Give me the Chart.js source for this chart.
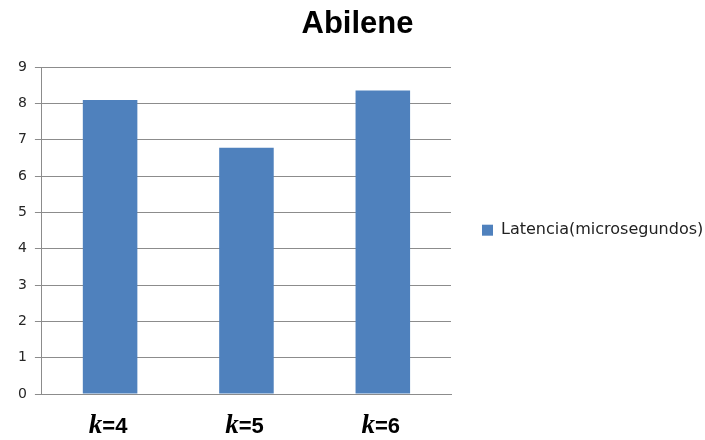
<!DOCTYPE html>
<html>
<head>
<meta charset="utf-8">
<script src="https://cdn.jsdelivr.net/npm/chart.js"></script>
<style>
  html, body { margin: 0; padding: 0; background: #fff; }
  #wrap { width: 705px; height: 440px; }
</style>
</head>
<body>
<div id="wrap"><canvas id="c"></canvas></div>
<script>
// k values and measured latency
const kValues = ['4', '5', '6'];
const latencia = [8.1, 6.78, 8.36];
const yTicks = [0, 1, 2, 3, 4, 5, 6, 7, 8, 9];
const seriesLabel = 'Latencia(microsegundos)';
const chartTitle = 'Abilene';

const categories = kValues.map(v => 'k=' + v);

// draws the x labels with an italic serif "k" followed by "=n"
const kLabels = {
  id: 'kLabels',
  afterDraw(chart) {
    const scale = chart.scales.x;
    const c = chart.ctx;
    const y = scale.bottom - 7;
    const kFont = 'italic bold 27px "Liberation Serif"';
    const restFont = 'bold 22px "Liberation Sans"';
    c.save();
    c.fillStyle = '#000';
    c.textBaseline = 'alphabetic';
    kValues.forEach((v, i) => {
      const x = scale.getPixelForTick(i) - 2;
      c.font = kFont;
      const wk = c.measureText('k').width;
      c.font = restFont;
      const wr = c.measureText('=' + v).width;
      const start = x - (wk + wr) / 2;
      c.font = kFont;
      c.textAlign = 'left';
      c.fillText('k', start, y);
      c.font = restFont;
      c.fillText('=' + v, start + wk, y);
    });
    c.restore();
  }
};

new Chart(document.getElementById('c'), {
  type: 'bar',
  data: {
    labels: categories,
    datasets: [{
      label: seriesLabel,
      data: latencia,
      backgroundColor: '#4f81bd',
      borderWidth: 0,
      categoryPercentage: 1,
      barPercentage: 0.4
    }]
  },
  options: {
    responsive: true,
    maintainAspectRatio: false,
    animation: false,
    layout: { padding: { left: 10, right: 0, top: 0, bottom: 0 } },
    plugins: {
      title: {
        display: true,
        text: chartTitle,
        color: '#000',
        font: { family: '"Liberation Sans"', size: 31, weight: 'bold' },
        padding: { top: 6, bottom: 24 }
      },
      legend: {
        position: 'right',
        maxWidth: 254,
        // empty title pushes the single entry a little lower
        title: { display: true, text: ' ', padding: 0, font: { size: 17 } },
        labels: {
          boxWidth: 11,
          boxHeight: 11,
          padding: 31,
          color: '#222',
          font: { family: '"DejaVu Sans"', size: 16 }
        }
      },
      tooltip: { enabled: false }
    },
    scales: {
      y: {
        min: 0,
        max: 9,
        afterBuildTicks: (axis) => { axis.ticks = yTicks.map(v => ({ value: v })); },
        ticks: {
          color: '#262626',
          padding: 8,
          font: { family: '"DejaVu Sans"', size: 14 }
        },
        grid: {
          color: '#8c8c8c',
          lineWidth: 1,
          tickLength: 7,
          drawTicks: true
        },
        border: { color: '#8c8c8c', width: 1 }
      },
      x: {
        ticks: {
          color: 'rgba(0,0,0,0)',
          padding: 7,
          font: { family: '"Liberation Sans"', size: 20, weight: 'bold' }
        },
        grid: { display: false },
        border: { color: '#8c8c8c', width: 1 }
      }
    }
  },
  plugins: [kLabels]
});
</script>
</body>
</html>
